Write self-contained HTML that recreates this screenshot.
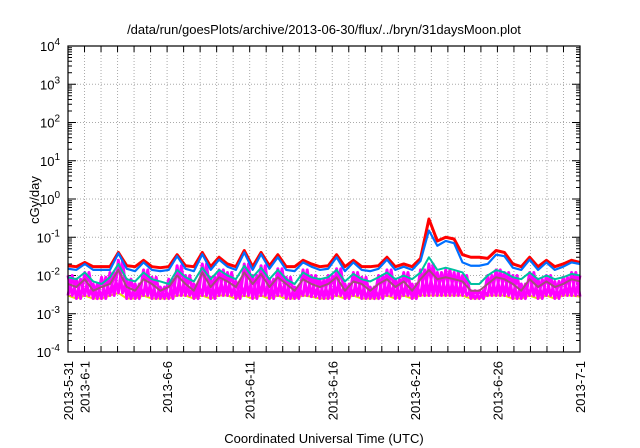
<!DOCTYPE html>
<html><head><meta charset="utf-8"><style>
body{margin:0;background:#fff;}
svg{display:block;font-family:"Liberation Sans",sans-serif;}
</style></head><body>
<svg id="c" width="640" height="448"></svg>
<script>
const days=["2013-5-31","2013-6-1","2013-6-6","2013-6-11","2013-6-16","2013-6-21","2013-6-26","2013-7-1"];
const dayOffsets=[0,1,6,11,16,21,26,31];
const yExps=[-4,-3,-2,-1,0,1,2,3,4];
const red=[18,17,22,17,17,17,40,18,17,25,17,16,17,35,18,17,40,17,30,20,17,45,17,40,18,35,17,17,25,20,17,18,35,17,25,17,17,18,30,17,20,17,28,300,80,100,90,35,30,30,28,45,40,20,17,30,17,25,17,20,25,22];
const blue=[15,14,20,14,14,14,38,15,13,22,14,13,14,32,15,13,36,14,26,17,14,40,14,36,15,30,14,13,22,17,14,15,30,13,22,14,13,15,26,14,17,14,24,150,60,80,70,22,18,18,20,35,32,16,14,26,14,22,14,17,22,20];
const teal=[9,8,12,7,6,9,20,8,7,12,8,7,6,14,9,7,16,8,14,10,8,18,9,16,8,14,8,6,12,9,8,9,14,7,11,8,7,9,12,8,10,8,12,30,14,16,14,12,6,6,10,14,12,9,8,12,8,10,8,9,11,10];
const brown=[6,5,8,4,5,6,14,5,4,8,6,4,5,10,6,4,12,5,9,7,5,12,6,11,5,9,6,4,8,6,5,6,9,4,7,6,4,6,8,5,7,4,8,14,8,9,8,7,4,4,6,9,8,6,4,8,5,7,5,6,8,7];
const magHi=[10,8,12,6,9,12,25,8,6,14,9,5,8,18,10,6,20,9,14,12,7,20,10,18,8,15,9,5,14,10,8,10,15,6,12,9,5,10,14,8,12,6,14,20,12,14,12,10,4,4,10,14,12,10,6,12,8,10,7,9,12,10];
const magLo=[3,2.5,3,2.5,2.5,3,3.5,2.5,2.5,3,2.5,2.5,2.5,3,3,2.5,3,2.5,3,3,2.5,3,2.5,3,2.5,3,2.5,2.5,3,2.8,2.5,2.5,3,2.5,3,2.5,2.5,2.5,3,2.5,3,2.5,3,3,3,3,3,3,2.5,2.5,3,3,3,2.5,2.5,3,2.5,3,2.5,3,3,2.8];
const L=68,R=580,T=46,B=352,NS="http://www.w3.org/2000/svg";
const svg=document.getElementById('c');
const xs=d=>L+d*(R-L)/31;
const ys=v=>B-(Math.log10(v)+4)*(B-T)/8;
const xi=(i,n)=>L+i*(R-L)/(n-1);
function mk(t,a,p){const e=document.createElementNS(NS,t);for(const k in a)e.setAttribute(k,a[k]);(p||svg).appendChild(e);return e;}
const grid=mk('g',{stroke:'#aaa','stroke-width':1,'stroke-dasharray':'1,2'});


for(let d=1;d<31;d++)mk('line',{x1:xs(d),x2:xs(d),y1:T,y2:B},grid);
yExps.slice(1,-1).forEach(e=>mk('line',{x1:L,x2:R,y1:ys(Math.pow(10,e)),y2:ys(Math.pow(10,e))},grid));
const tk=mk('g',{stroke:'#000','stroke-width':1});


for(let d=1;d<31;d++){mk('line',{x1:xs(d),x2:xs(d),y1:B,y2:B-6},tk);mk('line',{x1:xs(d),x2:xs(d),y1:T,y2:T+6},tk);}
yExps.forEach(e=>{const y=ys(Math.pow(10,e));mk('line',{x1:L,x2:L+8,y1:y,y2:y},tk);mk('line',{x1:R,x2:R-8,y1:y,y2:y},tk);
 if(e<4)for(let m=2;m<10;m++){const y2=ys(m*Math.pow(10,e));mk('line',{x1:L,x2:L+4,y1:y2,y2:y2},tk);mk('line',{x1:R,x2:R-4,y1:y2,y2:y2},tk);}
 const t=mk('text',{x:L-8,y:y+5,'text-anchor':'end','font-size':13});
 
 
 t.innerHTML='10<tspan dy="-6" font-size="10">'+e+'</tspan>';});
days.forEach((s,i)=>{const x=xs(dayOffsets[i]);const t=mk('text',{x:0,y:0,transform:`translate(${x+5},361) rotate(-90)`,'text-anchor':'end','font-size':13});
 
 
 t.textContent=s;});
const ser=mk('g',{fill:'none','stroke-linejoin':'round'});


const pts=a=>a.map((v,i)=>xi(i,a.length)+','+ys(v/1000)).join(' ');
const zig=(hi,lo)=>{const n=hi.length,s=(R-L)/(n-1);let o=[];hi.forEach((v,i)=>{const x=xi(i,n);o.push(x+','+ys(v/1000));if(i<n-1)o.push((x+s/2)+','+ys(lo[i]/1000));});return o.join(' ');};
const yl=mk('polyline',{points:pts(magLo),stroke:'#e8e000','stroke-width':2},ser);


const band=mk('polyline',{points:zig(magHi,magLo),stroke:'#ff00ff','stroke-width':3},ser);


const band2=mk('polyline',{points:zig(magLo,magHi),stroke:'#ff00ff','stroke-width':3},ser);


[[brown,'#a0507a','brown-series',2],[teal,'#00c0a0','teal-series',2],[red,'#ff0000','red-series',3],[blue,'#0070ff','blue-series',2.2]].forEach(([a,c,n,w])=>{
 const p=mk('polyline',{points:pts(a),stroke:c,'stroke-width':w},ser);
 
 });
const fr=mk('rect',{x:L,y:T,width:R-L,height:B-T,fill:'none',stroke:'#000','stroke-width':1.2});


const tt=mk('text',{x:324,y:34,'text-anchor':'middle','font-size':13});


tt.textContent='/data/run/goesPlots/archive/2013-06-30/flux/../bryn/31daysMoon.plot';
const yt=mk('text',{x:0,y:0,transform:'translate(39,200) rotate(-90)','text-anchor':'middle','font-size':13});


yt.textContent='cGy/day';
const xt=mk('text',{x:324,y:443,'text-anchor':'middle','font-size':13});


xt.textContent='Coordinated Universal Time (UTC)';
</script>
</body></html>
